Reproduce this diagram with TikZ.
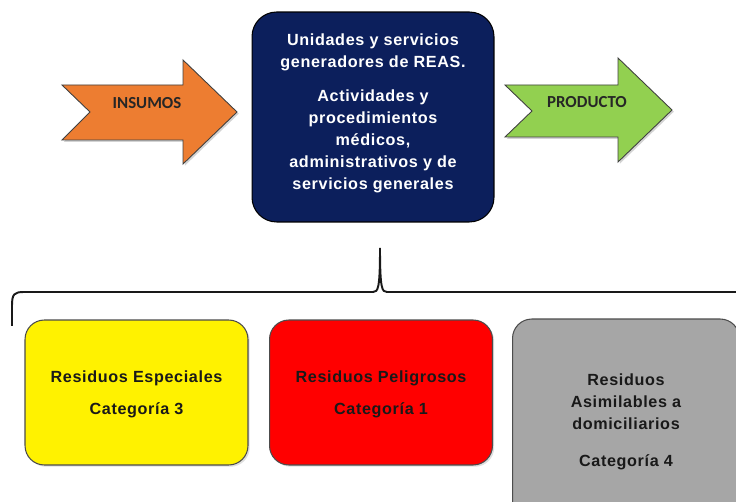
\documentclass[tikz,border=0pt]{standalone}
\usepackage{fontspec}
\setmainfont{Liberation Sans}
\newfontfamily\boxfont[LetterSpace=4]{Liberation Sans}
\newfontfamily\calfont{Carlito}
\usepackage{tikz}
\usetikzlibrary{positioning,shadows}

\definecolor{navy}{RGB}{12,31,92}
\definecolor{insumo}{RGB}{237,125,49}
\definecolor{producto}{RGB}{146,208,80}
\definecolor{gris}{RGB}{166,166,166}

\begin{document}
\begin{tikzpicture}[x=0.02cm,y=-0.02cm,
    every node/.style={font=\boxfont\bfseries\fontsize{9.2}{12.5}\selectfont},
    flecha/.style={draw=black!75, line width=0.5pt, drop shadow={opacity=0.35, shadow xshift=1pt, shadow yshift=-1pt}},
    etiqueta/.style={font=\calfont\bfseries\fontsize{9.6}{10}\selectfont, text=black!85},
    proceso/.style={draw=black, fill=navy, text=white, rounded corners=14pt, minimum width=4.84cm, minimum height=4.2cm, align=center, line width=0.6pt},
    residuo/.style={draw=black!70, rounded corners=11pt, minimum width=4.46cm, minimum height=2.9cm, align=center, text=black!90, line width=0.6pt, drop shadow={opacity=0.25, shadow xshift=1pt, shadow yshift=-1pt}},
    llave/.style={line width=1.1pt, black!90},
]
\useasboundingbox (0,0) rectangle (736,502);

% entrada y salida
\filldraw[flecha, fill=insumo] (62,85) -- (183,85) -- (183,60) -- (237,112) -- (183,164) -- (183,140) -- (62,140) -- (90,112) -- cycle;
\node[etiqueta] (insumos) at (147,103) {INSUMOS};
\filldraw[flecha, fill=producto] (505,85) -- (618,85) -- (618,58) -- (672,110) -- (618,162) -- (618,137) -- (505,137) -- (532,111) -- cycle;
\node[etiqueta] (producto) at (587,102) {PRODUCTO};

% proceso central
\node[proceso] (unidades) at (373,117) {};
\node[text=white, align=center] (unidades-texto) at (373,113) {Unidades y servicios\\generadores de REAS.\\[7pt]Actividades y\\procedimientos\\médicos,\\administrativos y de\\servicios generales};

% llave
\coordinate (llave-izq) at (12,326);
\coordinate (llave-pico) at (380,248);
\draw[llave] (llave-izq) -- (12,306) .. controls (12,294) and (14,292) .. (24,292) -- (373,292) .. controls (378,292) and (380,289) .. (llave-pico) .. controls (380,289) and (382,292) .. (387,292) -- (740,292);

% categorias
\node[residuo, fill=yellow, text depth=-6pt] (especiales) at (136.5,392.5) {Residuos Especiales\\[5.5pt]Categoría 3};
\node[residuo, fill=red, text depth=-6pt] (peligrosos) at (381,392.5) {Residuos Peligrosos\\[5.5pt]Categoría 1};
\node[residuo, fill=gris, minimum width=4.54cm, minimum height=4.12cm] (asimilables) at (626,422) {Residuos\\Asimilables a\\domiciliarios\\[8.5pt]Categoría 4};
\end{tikzpicture}
\end{document}
